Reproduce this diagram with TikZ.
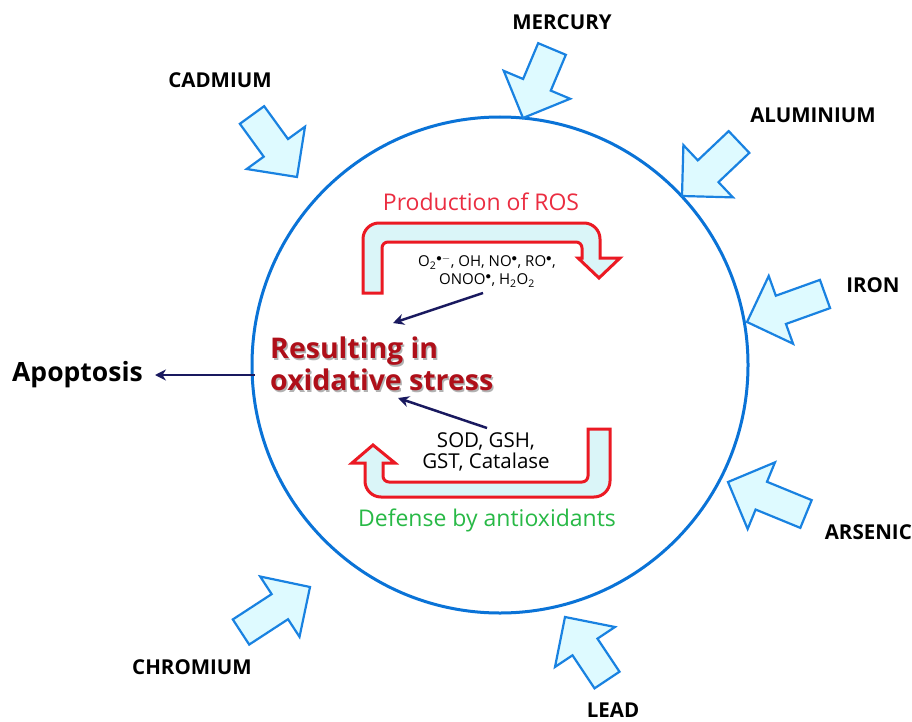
\documentclass[tikz,border=0pt]{standalone}
\usepackage{fontspec}
\setmainfont{Open Sans}
\usetikzlibrary{calc,arrows.meta}
\definecolor{circblue}{RGB}{10,115,215}
\definecolor{arrblue}{RGB}{25,130,225}
\definecolor{arrfill}{RGB}{222,250,255}
\definecolor{rosred}{RGB}{235,25,35}
\definecolor{rosfill}{RGB}{218,245,248}
\definecolor{navy}{RGB}{25,25,95}
\definecolor{darkred}{RGB}{175,15,25}
\definecolor{prodred}{RGB}{235,45,65}
\definecolor{defgreen}{RGB}{40,185,70}
\newcommand\blockarr[3]{%
  \coordinate (#1-t) at (#2);
  \coordinate (#1-p) at (#3);
  \coordinate (#1-h) at ($(#1-p)!36pt!(#1-t)$);
  \draw[blockarrow] ($(#1-t)!15pt!90:(#1-p)$) -- ($(#1-h)!15pt!-90:(#1-t)$)
    -- ($(#1-h)!36pt!-90:(#1-t)$) -- (#1-p) -- ($(#1-h)!36pt!90:(#1-t)$)
    -- ($(#1-h)!15pt!90:(#1-t)$) -- ($(#1-t)!15pt!-90:(#1-p)$) -- cycle;
}
\begin{document}
\begin{tikzpicture}[x=1pt,y=-1pt,
  blockarrow/.style={draw=arrblue,fill=arrfill,line width=2.2pt,line join=miter},
  metal/.style={font=\fontsize{20.5}{22}\selectfont\bfseries,text=black,inner sep=0pt},
  rosarrow/.style={draw=rosred,fill=rosfill,line width=3pt,line join=miter},
  pointer/.style={draw=navy,line width=2.5pt,-{Stealth[length=11pt,width=11pt]}},
  small/.style={font=\fontsize{15}{18}\selectfont,align=center,inner sep=0pt},
  mid/.style={font=\fontsize{20.5}{21}\selectfont,align=center,inner sep=0pt}]
\useasboundingbox (0,0) rectangle (912,722);
\fill[white] (0,0) rectangle (912,722);
% cell
\draw[circblue,line width=3pt] (500,365) circle[radius=248];
% metal arrows
\blockarr{cad}{252,115}{297,177}
\blockarr{mer}{552,49}{523,118}
\blockarr{alu}{739,142}{682,196}
\blockarr{iro}{825,294}{747,322}
\blockarr{ars}{806,514}{728,482}
\blockarr{lea}{607,680}{565,617}
\blockarr{chr}{241,632}{310,587}
% metal labels
\node[metal] (lcad) at (220,80) {CADMIUM};
\node[metal] (lmer) at (562,22) {MERCURY};
\node[metal] (lalu) at (813,115) {ALUMINIUM};
\node[metal] (liro) at (873,285) {IRON};
\node[metal,anchor=east] (lars) at (912,532) {ARSENIC};
\node[metal] (lchr) at (192,667) {CHROMIUM};
\node[metal] (llea) at (613,710) {LEAD};
% ROS cycle arrows
\draw[rosarrow] (363,293) [rounded corners=16pt] -- (363,223) -- (600,223)
  [sharp corners] -- (600,258) -- (620,258) -- (599,278) -- (578,258) -- (582,258)
  [rounded corners=6pt] -- (582,242) -- (382,242) [sharp corners] -- (382,293) -- cycle;
\draw[rosarrow] (610,429) [rounded corners=16pt] -- (610,497) -- (365,497)
  [sharp corners] -- (365,463) -- (352,463) -- (373,445) -- (395,463) -- (383,463)
  [rounded corners=6pt] -- (383,482) -- (588,482) [sharp corners] -- (588,429) -- cycle;
\node[font=\fontsize{23}{25}\selectfont,text=prodred,inner sep=0pt] (prod) at (481,202) {Production of ROS};
\node[font=\fontsize{23}{25}\selectfont,text=defgreen,inner sep=0pt] (def) at (487,520) {Defense by antioxidants};
\node[small] (ros) at (487,271) {O\textsubscript{2}$^{\bullet-}$, OH, NO$^{\bullet}$, RO$^{\bullet}$,\\ONOO$^{\bullet}$, H\textsubscript{2}O\textsubscript{2}};
\node[mid] (anti) at (486,452) {SOD, GSH,\\GST, Catalase};
% central stress
\node[font=\fontsize{28.5}{32}\selectfont\bfseries,text=gray!60,align=left,anchor=west,inner sep=0pt] at (271.5,365.5) {Resulting in\\oxidative stress};
\node[font=\fontsize{28.5}{32}\selectfont\bfseries,text=darkred,align=left,anchor=west,inner sep=0pt] (stress) at (270,364) {Resulting in\\oxidative stress};
\node[font=\fontsize{26.5}{30}\selectfont\bfseries,anchor=west,inner sep=0pt] (apop) at (12,375) {Apoptosis};
\coordinate (rosfrom) at (483,293);
\coordinate (rosto) at (393,323);
\coordinate (antifrom) at (487,428);
\coordinate (antito) at (398,398);
\coordinate (stressout) at (255,375);
\draw[pointer] (rosfrom) -- (rosto);
\draw[pointer] (antifrom) -- (antito);
\draw[pointer] (stressout) -- (apop.east -| 155,0);
\end{tikzpicture}
\end{document}
